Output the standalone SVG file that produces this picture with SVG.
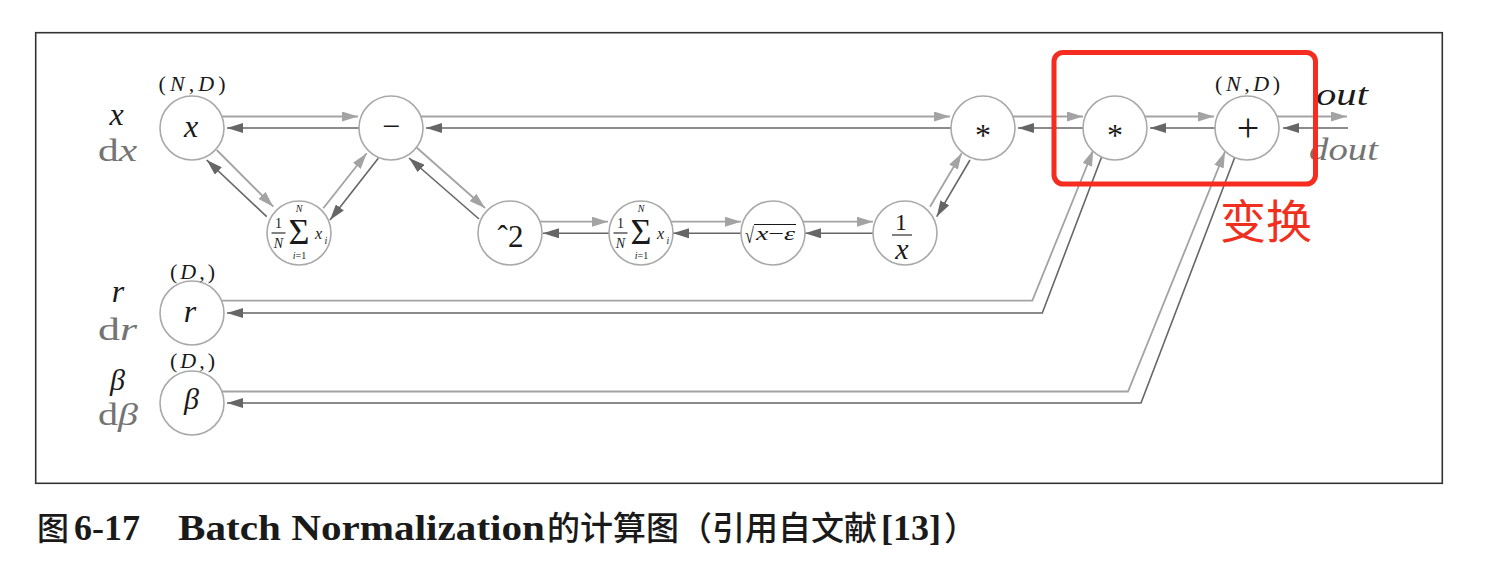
<svg xmlns="http://www.w3.org/2000/svg" width="1494" height="578" viewBox="0 0 1494 578">
<style>
.nd circle{fill:#fff;stroke:#a9a9a9;stroke-width:1.6}
.f{stroke:#a3a3a3;stroke-width:1.8;fill:none;marker-end:url(#af)}
.b{stroke:#666;stroke-width:1.6;fill:none;marker-end:url(#ab)}
text{font-family:"Liberation Serif",serif;fill:#1a1a1a}
.it{font-style:italic}
.g{fill:#747474}
.cj{font-family:"Noto Sans CJK SC",sans-serif}
.bar{stroke:#1a1a1a;stroke-width:1.1}
</style>
<defs>
<marker id="af" markerUnits="userSpaceOnUse" viewBox="0 0 16 10" markerWidth="16" markerHeight="10" refX="16" refY="5" orient="auto"><path d="M0,0 L16,5 L0,10 z" fill="#a3a3a3"/></marker>
<marker id="ab" markerUnits="userSpaceOnUse" viewBox="0 0 16 10" markerWidth="16" markerHeight="10" refX="16" refY="5" orient="auto"><path d="M0,0 L16,5 L0,10 z" fill="#666"/></marker>
</defs>
<rect x="35.7" y="32.7" width="1406.6" height="450.6" fill="none" stroke="#333" stroke-width="1.6"/>

<g id="connectors">
<line class="f" x1="222" y1="116.5" x2="358" y2="116.5"/>
<line class="b" x1="359" y1="128" x2="227" y2="128"/>
<line class="f" x1="421" y1="116.5" x2="950" y2="116.5"/>
<line class="b" x1="951" y1="128" x2="426" y2="128"/>
<line class="f" x1="1013" y1="116.5" x2="1083" y2="116.5"/>
<line class="b" x1="1084" y1="128" x2="1018" y2="128"/>
<line class="f" x1="1145" y1="116.5" x2="1214" y2="116.5"/>
<line class="b" x1="1215" y1="128" x2="1150" y2="128"/>
<line class="f" x1="1277" y1="116.5" x2="1347" y2="116.5"/>
<line class="b" x1="1348" y1="128" x2="1283" y2="128"/>
<line class="f" x1="540" y1="221.7" x2="608" y2="221.7"/>
<line class="b" x1="609" y1="233.3" x2="543" y2="233.3"/>
<line class="f" x1="671" y1="221.7" x2="741" y2="221.7"/>
<line class="b" x1="741" y1="233.3" x2="673" y2="233.3"/>
<line class="f" x1="803" y1="221.7" x2="873" y2="221.7"/>
<line class="b" x1="873" y1="233.3" x2="805" y2="233.3"/>
<line class="f" x1="216.7" y1="150" x2="273.3" y2="206.7"/>
<line class="b" x1="266.7" y1="216.7" x2="206.7" y2="160"/>
<line class="f" x1="323.3" y1="208.3" x2="366.7" y2="153.3"/>
<line class="b" x1="378.3" y1="158.3" x2="330" y2="220"/>
<line class="f" x1="416" y1="147" x2="485" y2="208"/>
<line class="b" x1="479" y1="219" x2="409" y2="158"/>
<line class="f" x1="930" y1="206.7" x2="961.7" y2="153.3"/>
<line class="b" x1="970" y1="160" x2="936.7" y2="216.7"/>
<polyline class="f" points="221.5,300.7 1032.3,300.7 1093.3,150"/>
<polyline class="b" points="1101.7,156.7 1042.3,313 227,313"/>
<polyline class="f" points="221.5,391.5 1128,391.5 1225,151.7"/>
<polyline class="b" points="1235,156.7 1141,403 227,403"/>
</g>

<g id="n-x" class="nd"><circle cx="192" cy="128" r="32"/><text class="it" x="191" y="137" font-size="32" text-anchor="middle">x</text></g>
<g id="n-minus" class="nd"><circle cx="391" cy="128" r="32"/><text x="391" y="137" font-size="32" text-anchor="middle">−</text></g>
<g id="n-sum1" class="nd"><circle cx="299" cy="233" r="32"/>
<text x="278.5" y="228" font-size="14" text-anchor="middle">1</text><line class="bar" x1="271.5" y1="233" x2="285.5" y2="233"/>
<text class="it" x="278.5" y="247.5" font-size="14" text-anchor="middle">N</text>
<text x="299" y="244" font-size="36" text-anchor="middle">Σ</text>
<text class="it" x="299" y="211.5" font-size="10" text-anchor="middle">N</text>
<text x="299.5" y="258.5" font-size="10" text-anchor="middle"><tspan class="it">i</tspan>=1</text>
<text class="it" x="315" y="239" font-size="16">x</text><text class="it" x="324.5" y="243.5" font-size="10">i</text></g>
<g id="n-sq" class="nd"><circle cx="510" cy="233" r="32"/><text x="510.5" y="246.7" font-size="31" text-anchor="middle">ˆ2</text></g>
<g id="n-sum2" class="nd"><circle cx="641" cy="233" r="32"/>
<text x="620.5" y="228" font-size="14" text-anchor="middle">1</text><line class="bar" x1="613.5" y1="233" x2="627.5" y2="233"/>
<text class="it" x="620.5" y="247.5" font-size="14" text-anchor="middle">N</text>
<text x="641" y="244" font-size="36" text-anchor="middle">Σ</text>
<text class="it" x="641" y="211.5" font-size="10" text-anchor="middle">N</text>
<text x="641.5" y="258.5" font-size="10" text-anchor="middle"><tspan class="it">i</tspan>=1</text>
<text class="it" x="657" y="239" font-size="16">x</text><text class="it" x="666.5" y="243.5" font-size="10">i</text></g>
<g id="n-sqrt" class="nd"><circle cx="773" cy="233" r="32"/>
<text x="745" y="243" font-size="22" textLength="9" lengthAdjust="spacingAndGlyphs">√</text><line class="bar" x1="754" y1="224.5" x2="796" y2="224.5"/>
<text x="756" y="240" font-size="19" textLength="39" lengthAdjust="spacingAndGlyphs"><tspan class="it">x</tspan>−<tspan class="it">ε</tspan></text></g>
<g id="n-inv" class="nd"><circle cx="905" cy="233" r="32"/>
<text x="901" y="229.5" font-size="24" text-anchor="middle">1</text><line class="bar" x1="892" y1="235" x2="912" y2="235" stroke-width="1.3"/>
<text class="it" x="902" y="258.5" font-size="30" text-anchor="middle">x</text></g>
<g id="n-mul1" class="nd"><circle cx="983" cy="128" r="32"/><text x="983" y="146" font-size="32" text-anchor="middle">*</text></g>
<g id="n-mul2" class="nd"><circle cx="1115" cy="128" r="32"/><text x="1115" y="146" font-size="32" text-anchor="middle">*</text></g>
<g id="n-plus" class="nd"><circle cx="1247" cy="128" r="32"/><text x="1248" y="141" font-size="40" text-anchor="middle">+</text></g>
<g id="n-r" class="nd"><circle cx="192" cy="313" r="32"/><text class="it" x="190" y="322" font-size="32" text-anchor="middle">r</text></g>
<g id="n-beta" class="nd"><circle cx="192" cy="403" r="32"/><text class="it" x="191.5" y="409" font-size="30" text-anchor="middle">β</text></g>

<g id="labels">
<text x="192" y="91" font-size="22" text-anchor="middle" textLength="67" lengthAdjust="spacing">(<tspan class="it">N</tspan>,<tspan class="it">D</tspan>)</text>
<text x="1247.5" y="91" font-size="22" text-anchor="middle" textLength="65" lengthAdjust="spacing">(<tspan class="it">N</tspan>,<tspan class="it">D</tspan>)</text>
<text x="192.5" y="279" font-size="22" text-anchor="middle" textLength="45" lengthAdjust="spacing">(<tspan class="it">D</tspan>,)</text>
<text x="192.5" y="368" font-size="22" text-anchor="middle" textLength="45" lengthAdjust="spacing">(<tspan class="it">D</tspan>,)</text>
<text class="it" x="116.7" y="125" font-size="32" text-anchor="middle">x</text>
<text class="g" x="117.5" y="161" font-size="32" text-anchor="middle" textLength="39" lengthAdjust="spacingAndGlyphs">d<tspan class="it">x</tspan></text>
<text class="it" x="118" y="302" font-size="32" text-anchor="middle">r</text>
<text class="g" x="117.5" y="340" font-size="32" text-anchor="middle" textLength="39" lengthAdjust="spacingAndGlyphs">d<tspan class="it">r</tspan></text>
<text class="it" x="117.5" y="390" font-size="30" text-anchor="middle">β</text>
<text class="g" x="118" y="425" font-size="31" text-anchor="middle" textLength="40" lengthAdjust="spacingAndGlyphs">d<tspan class="it">β</tspan></text>
<text class="it" x="1316" y="105" font-size="32" textLength="52" lengthAdjust="spacingAndGlyphs">out</text>
<text class="it g" x="1309" y="160" font-size="32" textLength="69" lengthAdjust="spacingAndGlyphs">dout</text>
</g>

<rect x="1054" y="52.5" width="261.5" height="131.5" rx="9" fill="none" stroke="#f52c1f" stroke-width="5"/>
<text class="cj" x="1266" y="238" font-size="46" text-anchor="middle" style="fill:#f0301f">变换</text>

<g id="caption">
<text class="cj" x="37" y="540" font-size="32" font-weight="500">图</text>
<text x="74" y="540" font-size="35" font-weight="bold" textLength="66" lengthAdjust="spacingAndGlyphs">6-17</text>
<text x="178" y="540" font-size="35" font-weight="bold" textLength="367" lengthAdjust="spacingAndGlyphs">Batch Normalization</text>
<text class="cj" x="547" y="540" font-size="33" font-weight="500">的计算图（引用自文献</text>
<text x="881" y="540" font-size="35" font-weight="bold" textLength="60" lengthAdjust="spacingAndGlyphs">[13]</text>
<text class="cj" x="944" y="540" font-size="33" font-weight="500">）</text>
</g>
</svg>
